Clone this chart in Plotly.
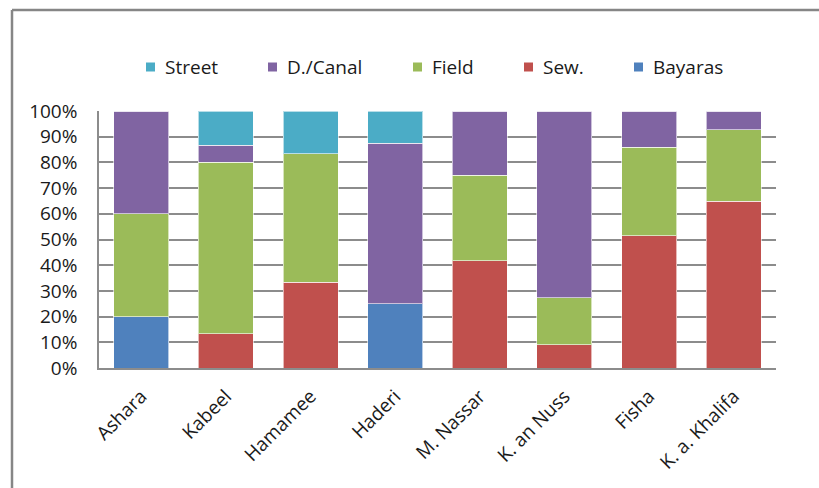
import plotly.graph_objects as go

# Sites along the x axis
sites = ["Ashara", "Kabeel", "Hamamee", "Haderi", "M. Nassar", "K. an Nuss", "Fisha", "K. a. Khalifa"]

# Share of each source per site (percent)
bayaras = [20.0, 0.0, 0.0, 25.0, 0.0, 0.0, 0.0, 0.0]
sew = [0.0, 13.3, 33.3, 0.0, 41.7, 9.1, 51.4, 64.9]
field = [40.0, 66.7, 50.0, 0.0, 33.3, 18.2, 34.4, 27.9]
canal = [40.0, 6.7, 0.0, 62.5, 25.0, 72.7, 14.2, 7.2]
street = [0.0, 13.3, 16.7, 12.5, 0.0, 0.0, 0.0, 0.0]

y_ticks = [0, 10, 20, 30, 40, 50, 60, 70, 80, 90, 100]
y_tick_text = [f"{v}%" for v in y_ticks]

series = [
    ("Bayaras", bayaras, "#4F81BD"),
    ("Sew.", sew, "#C0504D"),
    ("Field", field, "#9BBB59"),
    ("D./Canal", canal, "#8064A2"),
    ("Street", street, "#4BACC6"),
]

FONT = "Open Sans"
FSIZE = 19
TEXT = "#1a1a1a"

fig = go.Figure()
for name, vals, color in series:
    fig.add_trace(go.Bar(
        x=sites, y=vals, name=name, showlegend=False,
        marker=dict(color=color, line=dict(color="rgba(255,255,255,0.6)", width=1)),
    ))

W, H = 819, 488
L, R, T, B = 99, 43, 111, 120
pw, ph = W - L - R, H - T - B

def px_x(p):
    return (p - L) / pw

def px_y(p):
    return (H - B - p) / ph

# Legend row across the top: a colour swatch followed by the series name,
# listed from the top of the stack downwards.
legend_left = [146, 268, 413, 524, 634]
legend_mid = 67
swatch = 9
shapes = []
annotations = []
for (name, _, color), x0 in zip(reversed(series), legend_left):
    shapes.append(dict(
        type="rect", xref="paper", yref="paper",
        x0=px_x(x0), x1=px_x(x0 + swatch),
        y0=px_y(legend_mid + swatch / 2), y1=px_y(legend_mid - swatch / 2),
        fillcolor=color, line=dict(width=0),
    ))
    annotations.append(dict(
        xref="paper", yref="paper",
        x=px_x(x0 + swatch + 8), y=px_y(legend_mid),
        xanchor="left", yanchor="middle",
        text=name, showarrow=False,
        font=dict(family=FONT, size=FSIZE, color=TEXT),
    ))

# outer chart frame (left and top edges)
shapes += [
    dict(type="line", xref="paper", yref="paper",
         x0=px_x(12), x1=px_x(12), y0=px_y(10), y1=px_y(495),
         line=dict(color="#868686", width=2.5)),
    dict(type="line", xref="paper", yref="paper",
         x0=px_x(12), x1=px_x(825), y0=px_y(10), y1=px_y(10),
         line=dict(color="#868686", width=2.5)),
]

fig.update_layout(
    width=W, height=H,
    margin=dict(l=L, r=R, t=T, b=B),
    barmode="stack",
    bargap=0.35,
    paper_bgcolor="white",
    plot_bgcolor="white",
    font=dict(family=FONT, size=FSIZE, color=TEXT),
    showlegend=False,
    xaxis=dict(
        tickangle=-45,
        showgrid=False,
        showline=True, linecolor="#8c8c8c", linewidth=1.5,
        ticks="",
        ticklabelstandoff=8,
        tickfont=dict(family=FONT, size=FSIZE, color=TEXT),
        fixedrange=True,
    ),
    yaxis=dict(
        range=[0, 100],
        tickvals=y_ticks,
        ticktext=y_tick_text,
        showgrid=True, gridcolor="#8c8c8c", gridwidth=1.5,
        showline=True, linecolor="#8c8c8c", linewidth=1.5,
        ticks="",
        ticklabelstandoff=16,
        tickfont=dict(family=FONT, size=FSIZE, color=TEXT),
        zeroline=False,
        fixedrange=True,
    ),
    shapes=shapes,
    annotations=annotations,
)

fig.write_html("out.html")
